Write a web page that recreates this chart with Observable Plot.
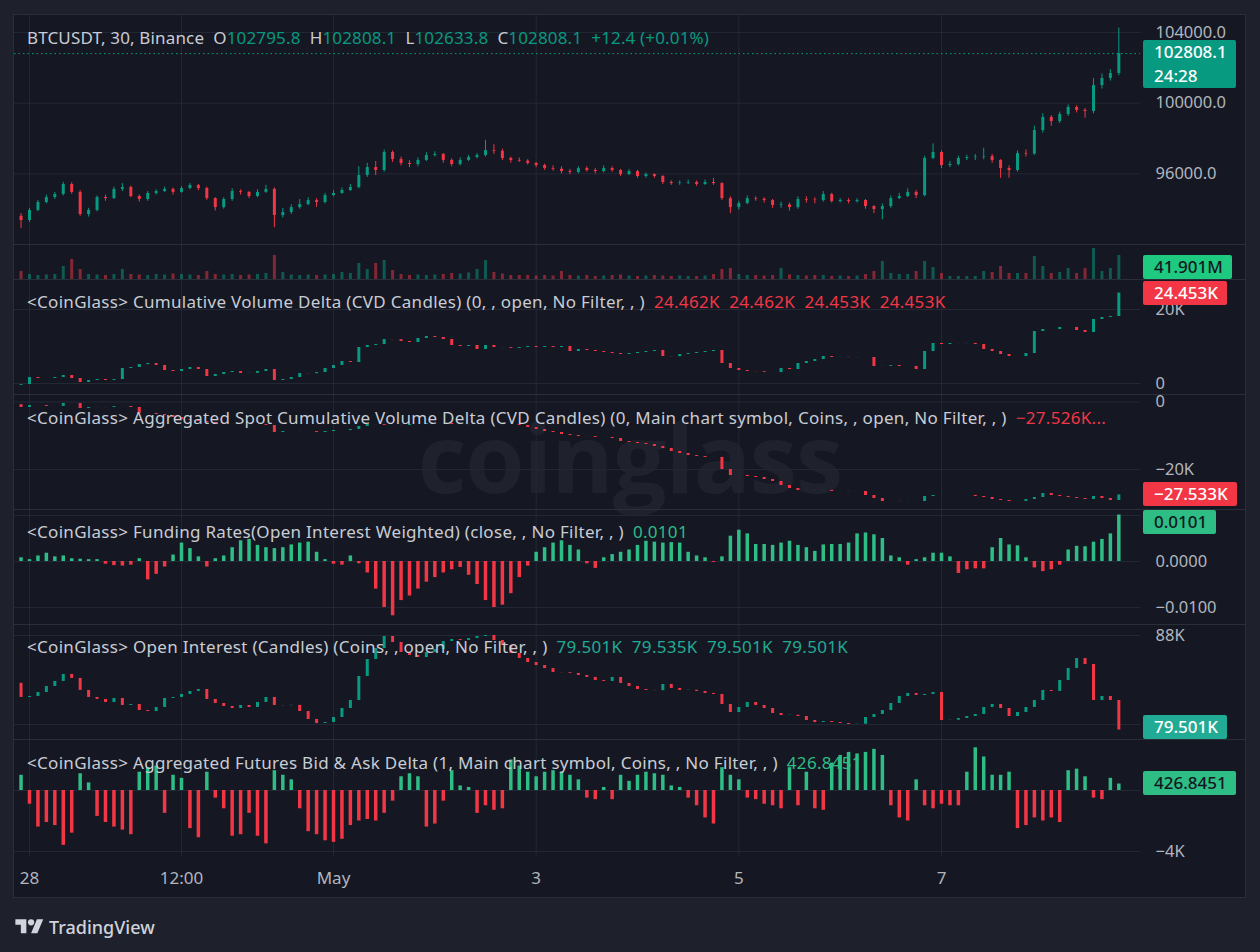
<!DOCTYPE html>
<html><head><meta charset="utf-8">
<script src="https://cdn.jsdelivr.net/npm/d3@7"></script>
<script src="https://cdn.jsdelivr.net/npm/@observablehq/plot@0.6"></script>
<style>
html,body{margin:0;padding:0;background:#1e212b;}
#root{position:relative;width:1260px;height:952px;background:#1e212b;overflow:hidden;font-family:"Noto Sans",sans-serif;}
#frame{position:absolute;left:13px;top:14px;width:1233px;height:884px;background:#151823;border:1px solid #2a2e39;box-sizing:border-box;}
.pane{position:absolute;left:14px;width:1231px;}
.pane svg{display:block;}
.sep{position:absolute;left:14px;width:1231px;height:1px;background:#2a2e39;}
.hdr{position:absolute;left:27px;font-size:17px;line-height:22px;color:#c9ccd4;white-space:pre;letter-spacing:0.3px;}
.hdr.price{letter-spacing:0.15px;}
.hdr .v{margin-left:9px;}
.tag{position:absolute;left:1143px;padding:0 9px 0 11px;font-size:17px;line-height:24px;border-radius:2px;white-space:pre;font-weight:500;}
#wm{position:absolute;left:0;width:1260px;text-align:center;top:396px;font-family:"Open Sans",sans-serif;font-weight:700;font-size:95px;line-height:120px;color:rgba(255,255,255,0.045);letter-spacing:-1px;}
#logo{position:absolute;left:15px;top:916px;}
#logotext{position:absolute;left:49px;top:914px;font-size:18px;line-height:26px;color:#d1d4dc;font-weight:500;}
</style></head><body><div id="root"><div id="frame"></div><div id="wm">coinglass</div></div>
<script>
// ---------------- data (2-hour bars) ----------------
const barStart = "2025-04-27T22:00:00Z";
const barStepHours = 2;
const viewStart = "2025-04-27T20:27:00Z";
const viewEnd = "2025-05-08T23:08:00Z";

const priceOpen0 = 93600;
const priceClose = [93360,93930,94380,94660,94830,95400,94950,93700,93930,94660,
 94600,95120,95230,94720,94550,94890,95000,95120,94950,95170,
 95340,95170,94600,94090,94550,95000,94950,94720,94950,95120,
 93640,93810,94090,94260,94490,94380,94770,94890,95060,95230,
 95910,96360,96190,97210,96810,96590,96530,96760,97040,97100,
 96760,96530,96760,96930,97040,97320,97280,96870,96760,96720,
 96590,96470,96300,96260,96130,96080,96300,96190,96130,96300,
 96190,95960,96130,95850,95960,95850,95510,95450,95480,95510,
 95400,95510,95450,94600,94090,94320,94600,94560,94490,94210,
 94240,94090,94550,94510,94490,94830,94430,94490,94430,94490,
 94150,93980,94150,94600,94720,94950,94770,96870,97210,96470,
 96530,96870,96920,96950,96980,96760,96300,96190,97150,97120,
 98450,99190,98960,99360,99760,99590,99530,101000,101400,101680,
 102808.1];
const priceHigh = [93750,94050,94500,94800,94950,95520,95500,95050,94050,94750,
 94800,95250,95450,95300,94800,95000,95100,95250,95200,95280,
 95450,95400,95250,94650,94650,95150,95100,95000,95100,95350,
 95200,94050,94250,94550,94650,94600,94900,95050,95200,95400,
 96400,96600,96700,97350,97300,96950,96750,96900,97200,97250,
 97150,96850,96900,97050,97150,97900,97650,97400,96950,96900,
 96800,96650,96550,96450,96400,96250,96400,96400,96300,96450,
 96400,96250,96250,96200,96050,96000,95900,95600,95600,95650,
 95600,95650,95750,95500,94700,94450,94750,94700,94650,94550,
 94400,94350,94700,94700,94650,95000,94900,94600,94600,94600,
 94550,94200,94300,94750,94900,95150,95050,97000,97700,97300,
 96700,97000,97050,97100,97450,97100,96800,96450,97300,97350,
 98700,99400,99300,99500,99900,99850,99700,101400,101650,101900,
 104250];
const priceLow = [92900,93250,93850,94300,94550,94750,94850,93600,93550,93850,
 94450,94550,95000,94650,94400,94450,94800,94950,94800,94900,
 95100,95050,94500,93900,94000,94450,94800,94600,94650,94900,
 92950,93500,93700,94000,94200,94100,94300,94700,94850,95000,
 95150,95800,95900,96100,96650,96450,96350,96400,96700,96950,
 96600,96400,96450,96700,96850,96950,97100,96750,96600,96650,
 96500,96350,96200,96150,96000,95950,96000,96100,96000,96050,
 96100,95850,95900,95750,95750,95750,95400,95350,95350,95400,
 95300,95350,95350,94500,93750,93950,94250,94450,94350,94050,
 94050,93900,94000,94350,94300,94400,94350,94350,94300,94350,
 94000,93750,93400,94050,94550,94650,94600,94700,96800,96300,
 96350,96450,96750,96750,96800,96600,95750,95750,96100,96950,
 97050,98300,98700,98850,99250,99450,99150,99400,100800,101250,
 101550];
const volumeM = [80,50,40,45,50,130,200,100,50,45,
 40,50,100,50,45,40,50,45,55,50,
 45,40,80,50,45,50,40,45,50,60,
 240,70,45,40,45,40,45,50,70,60,
 160,100,160,190,90,50,40,45,40,45,
 50,60,55,65,100,190,70,55,40,40,
 40,35,40,35,80,40,35,40,30,35,
 40,45,35,30,35,40,35,30,35,30,
 30,35,50,100,110,50,40,40,35,40,
 110,45,40,35,40,40,30,35,30,35,
 50,80,180,60,50,50,80,180,120,60,
 30,30,30,30,80,70,130,60,60,60,
 230,130,60,70,110,60,110,310,80,110,
 240];
const cvdOpen0 = -500;
const cvd = [-270,1620,1350,1350,1620,2160,1350,270,810,1080,
 810,1080,4050,4320,5140,5410,4870,3510,3240,3780,
 4320,3780,1890,2430,2970,3240,2700,2750,3240,3780,
 810,1080,1620,2700,2650,2970,4050,4870,5950,5680,
 9730,10270,10540,11890,11850,11350,11080,12160,12700,12430,
 11890,10270,10000,10270,9190,10270,9730,9700,9460,9730,
 10000,9730,10000,9730,10000,8650,9190,8920,8650,8380,
 8110,7840,8110,8380,8650,8920,7300,7250,7840,8110,
 8380,8650,8920,5410,4050,3510,3240,3200,2970,2950,
 4050,3780,5410,5950,6490,7300,7030,7060,7000,7040,
 7030,4600,4630,4870,4600,4620,3780,8650,10810,10540,
 10810,10790,10830,10540,9190,8650,7840,7300,7280,8110,
 14060,14600,14580,15140,15160,14330,13790,17300,17840,18110,
 24453];
const spotOpen0 = -800;
const spotCvd = [-1630,-1040,-1060,-1330,-1310,-440,-460,-1930,-1630,-1650,
 -1610,-1330,-1350,-1630,-3410,-3390,-3700,-4000,-4590,-5190,
 -5480,-5780,-6070,-6370,-6670,-6650,-6690,-6660,-6680,-6960,
 -9040,-8740,-8760,-8730,-8750,-9040,-8740,-8440,-8460,-8150,
 -7260,-6670,-6690,-6960,-6940,-6980,-6670,-6690,-6370,-6390,
 -6350,-6670,-6650,-6690,-6660,-6680,-6650,-6690,-6670,-6960,
 -7560,-8150,-8740,-9040,-9630,-9930,-10220,-10250,-10520,-10500,
 -10810,-11700,-12000,-12300,-12590,-13190,-13780,-14670,-15260,-15850,
 -16150,-16440,-16420,-20000,-21780,-21760,-22070,-22370,-22960,-23550,
 -24740,-25630,-26220,-26200,-26240,-26190,-26520,-26500,-26540,-26510,
 -27700,-28590,-29480,-29460,-29500,-29470,-29490,-28000,-27700,-27720,
 -27690,-27710,-27680,-28000,-28300,-28890,-29190,-29480,-29460,-28890,
 -28300,-27110,-27700,-28000,-28300,-28590,-28890,-28000,-28590,-29190,
 -27533];
const fundingRate = [0.0008,0.0004,0.0012,0.0018,0.0010,0.0012,0.0006,0.0005,0.0004,0.0004,
 -0.0006,-0.0009,-0.0010,-0.0008,0.0006,-0.0040,-0.0028,-0.0012,0.0014,0.0040,
 0.0028,0.0010,-0.0012,0.0006,0.0012,0.0030,0.0045,0.0048,0.0035,0.0030,
 0.0028,0.0030,0.0036,0.0040,0.0042,0.0020,0.0004,-0.0006,-0.0008,0.0012,
 -0.0005,-0.0025,-0.0060,-0.0100,-0.0118,-0.0085,-0.0075,-0.0060,-0.0045,-0.0035,
 -0.0025,-0.0018,-0.0013,-0.0030,-0.0050,-0.0085,-0.0100,-0.0095,-0.0070,-0.0035,
 -0.0010,0.0020,0.0030,0.0040,0.0045,0.0035,0.0025,-0.0005,-0.0015,0.0008,
 0.0015,0.0020,0.0025,0.0035,0.0044,0.0042,0.0040,0.0041,0.0040,0.0020,
 0.0012,0.0008,-0.0002,0.0010,0.0055,0.0068,0.0060,0.0037,0.0037,0.0035,
 0.0040,0.0044,0.0035,0.0030,0.0022,0.0036,0.0037,0.0037,0.0040,0.0060,
 0.0062,0.0058,0.0050,0.0012,0.0008,-0.0008,0.0004,0.0008,0.0018,0.0018,
 0.0010,-0.0026,-0.0018,-0.0016,-0.0016,0.0030,0.0050,0.0036,0.0034,0.0008,
 -0.0014,-0.0022,-0.0018,-0.0008,0.0025,0.0033,0.0032,0.0042,0.0048,0.0060,
 0.0101];
const oiOpen0 = 83700;
const openInterest = [82430,82520,82880,83420,83870,84500,84140,83060,82430,82250,
 81980,82340,81710,81800,81260,81170,81530,82340,82430,82700,
 82970,83150,82250,81890,81620,81440,81710,81530,81980,82430,
 81710,81690,81720,81170,80450,80090,80180,80630,81440,82160,
 84320,85840,86830,87910,87370,86470,86200,86020,86470,86740,
 87460,87640,87550,87730,87910,88000,87550,87100,86380,85930,
 85570,85300,85030,84680,84660,84590,84410,84230,83960,83870,
 84230,83690,83420,83150,83060,83040,83600,83240,83060,83080,
 82970,82790,82700,81800,81080,81530,81980,81710,81440,80990,
 80810,80830,80720,80360,80180,80270,80180,80090,80000,80020,
 80630,80900,81260,81890,82520,82790,82610,82700,82880,80360,
 80380,80540,80720,80900,81530,81800,81440,80720,81080,81530,
 82160,83060,82970,83960,85030,85930,85390,82160,82520,82160,
 79501];
const bidAskDelta = [1000,-900,-2400,-2100,-2300,-3600,-2800,1100,500,-1700,
 -2100,-2400,-2600,-2900,1200,1500,1600,-1500,1000,800,
 -2500,-3100,1200,-500,-1200,-3000,-2900,-1500,-3000,-3500,
 1300,1000,700,-1200,-2700,-2900,-3300,-3400,-3200,-2300,
 -2000,-1900,-2000,-1500,-700,900,1100,900,-2400,-2200,
 -700,1300,300,200,-1500,-1000,-1300,-1200,2000,1600,
 1200,900,1200,1300,1200,1000,700,-500,-600,200,
 -600,1000,600,1000,1200,1100,1000,300,200,-500,
 -1000,-1800,-2200,1500,1000,700,-500,-600,-900,-1000,
 -1200,1500,-1000,1200,-1200,-1300,1800,2300,2500,2400,
 2500,2700,2300,-1000,-1800,-2000,700,-1000,-1200,-900,
 -1000,-1000,1200,2800,2200,1000,1000,1200,-2500,-2300,
 -1800,-2000,-1800,-2100,1300,1400,900,-500,-600,800,
 426.8451];

const timeTicks = ["2025-04-28T00:00:00Z","2025-04-29T12:00:00Z","2025-05-01T00:00:00Z","2025-05-03T00:00:00Z","2025-05-05T00:00:00Z","2025-05-07T00:00:00Z"];
const timeTickLabels = ["28","12:00","May","3","5","7"];

// grid levels per pane, and the subset whose labels are not covered by a value tag
const priceTicks = [104000,100000,96000], priceLabels = [104000,100000,96000];
const cvdTicks = [20000,0], cvdLabels = [20000,0];
const spotTicks = [0,-20000], spotLabels = [0,-20000];
const fundingTicks = [0.01,0,-0.01], fundingLabels = [0,-0.01];
const oiTicks = [88000,80000], oiLabels = [88000];
const deltaTicks = [0,-4000], deltaLabels = [-4000];

const lastVolumeM = 41.901;
const countdown = "24:28";
const headerPrice = {symbol:"BTCUSDT, 30, Binance", O:"102795.8", H:"102808.1", L:"102633.8", C:"102808.1", chg:"+12.4 (+0.01%)"};
const headers = [
 {title:"<CoinGlass> Cumulative Volume Delta (CVD Candles) (0, , open, No Filter, , )", values:"24.462K  24.462K  24.453K  24.453K", color:"#f23645"},
 {title:"<CoinGlass> Aggregated Spot Cumulative Volume Delta (CVD Candles) (0, Main chart symbol, Coins, , open, No Filter, , )", values:"\u221227.526K...", color:"#f23645"},
 {title:"<CoinGlass> Funding Rates(Open Interest Weighted) (close, , No Filter, , )", values:"0.0101", color:"#2ebd85"},
 {title:"<CoinGlass> Open Interest (Candles) (Coins, , open, No Filter, , )", values:"79.501K  79.535K  79.501K  79.501K", color:"#22ab94"},
 {title:"<CoinGlass> Aggregated Futures Bid & Ask Delta (1, Main chart symbol, Coins, , No Filter, , )", values:"426.8451", color:"#2ebd85"}
];

// ---------------- styling ----------------
const UP = "#089981", DOWN = "#f23645", MINT = "#2ebd85", TEAL = "#22ab94";
const GRID = "#242835", AXIS_TXT = "#b2b5be";
const FONT = '"Noto Sans", sans-serif';
const AXIS_FS = 16.5;
const minus = s => s.replace("-", "\u2212");

const root = document.getElementById("root");
const t0 = Date.parse(barStart);
const times = priceClose.map((_, i) => new Date(t0 + i * barStepHours * 3600e3));
const xDomain = [new Date(viewStart), new Date(viewEnd)];
const tickDates = timeTicks.map(d => new Date(d));

function candleRows(closes, open0, highs, lows) {
  return closes.map((c, i) => {
    const o = i ? closes[i - 1] : open0;
    return {t: times[i], o, c, h: highs ? highs[i] : Math.max(o, c), l: lows ? lows[i] : Math.min(o, c),
            col: c >= o ? UP : DOWN};
  });
}

function makePane(top, height, domain, ticks, labels, fmt, marks) {
  const chart = Plot.plot({
    width: 1231, height, margin: 0, marginRight: 105,
    style: {background: "transparent", overflow: "visible"},
    x: {type: "utc", domain: xDomain, axis: null},
    y: {domain, axis: null},
    color: {type: "identity"},
    marks: [
      Plot.ruleX(tickDates, {x: d => d, stroke: GRID}),
      Plot.ruleY(ticks, {y: d => d, stroke: GRID}),
      ...marks,
      Plot.text(labels, {y: d => d, text: fmt, frameAnchor: "right", textAnchor: "start", dx: 15,
        fill: AXIS_TXT, fontSize: AXIS_FS, fontFamily: FONT})
    ]
  });
  const div = document.createElement("div");
  div.className = "pane";
  div.style.top = top + "px";
  div.style.height = height + "px";
  div.appendChild(chart);
  root.appendChild(div);
  if (top > 15) {
    const s = document.createElement("div");
    s.className = "sep"; s.style.top = top + "px";
    root.appendChild(s);
  }
  const sc = chart.scale("y");
  const f = sc.apply ? v => sc.apply(v) : d3.scaleLinear(sc.domain, sc.range);
  return {top, height, y: f};
}

function tag(p, value, text, bg, fg, extraHeight) {
  const h = 24 + (extraHeight || 0);
  const yv = p.top + p.y(value);
  let topPx = extraHeight ? yv - 13 : yv - 12;
  topPx = Math.max(p.top + 1, Math.min(p.top + p.height - h, topPx));
  const d = document.createElement("div");
  d.className = "tag";
  d.style.top = topPx + "px";
  d.style.background = bg; d.style.color = fg;
  d.style.height = h + "px";
  d.innerHTML = text;
  root.appendChild(d);
}

function header(top, html, cls) {
  const d = document.createElement("div");
  d.className = "hdr" + (cls ? " " + cls : ""); d.style.top = top + "px";
  d.innerHTML = html;
  root.appendChild(d);
}
const esc = s => s.replace(/&/g, "&amp;").replace(/</g, "&lt;").replace(/>/g, "&gt;");

// ---------------- price pane ----------------
const priceRows = candleRows(priceClose, priceOpen0, priceHigh, priceLow);
const lastPrice = priceClose[priceClose.length - 1];
const pricePane = makePane(15, 229, [92002, 104964], priceTicks, priceLabels, d => d.toFixed(1), [
  Plot.ruleY([lastPrice], {y: d => d, stroke: UP, strokeDasharray: "1.5,3", strokeWidth: 1}),
  Plot.ruleX(priceRows, {x: "t", y1: "l", y2: "h", stroke: "col", strokeWidth: 1}),
  Plot.ruleX(priceRows, {x: "t", y1: "o", y2: "c", stroke: "col", strokeWidth: 3})
]);

// ---------------- volume pane ----------------
const volRows = priceRows.map((r, i) => ({t: r.t, v: volumeM[i], col: r.col}));
const volPane = makePane(244, 35, [0, 350], [], [], d => d, [
  Plot.ruleX(volRows, {x: "t", y1: 0, y2: "v", stroke: "col", strokeOpacity: 0.5, strokeWidth: 3})
]);

// ---------------- CVD ----------------
const cvdRows = candleRows(cvd, cvdOpen0);
const kfmt = d => d === 0 ? "0" : minus((d / 1000) + "K");
const cvdPane = makePane(279, 115, [-2973, 28109], cvdTicks, cvdLabels, kfmt, [
  Plot.ruleX(cvdRows, {x: "t", y1: "o", y2: "c", stroke: "col", strokeWidth: 3})
]);

// ---------------- spot CVD ----------------
const spotRows = candleRows(spotCvd, spotOpen0);
const spotPane = makePane(394, 115, [-31852, 2222], spotTicks, spotLabels, kfmt, [
  Plot.ruleX(spotRows, {x: "t", y1: "o", y2: "c", stroke: "col", strokeWidth: 3})
]);

// ---------------- funding ----------------
const fundRows = fundingRate.map((v, i) => ({t: times[i], v, col: v >= 0 ? MINT : DOWN}));
const fundPane = makePane(509, 115, [-0.0137, 0.0113], fundingTicks, fundingLabels, d => minus(d.toFixed(4)), [
  Plot.ruleX(fundRows, {x: "t", y1: 0, y2: "v", stroke: "col", strokeWidth: 3.5})
]);

// ---------------- open interest ----------------
const oiRows = candleRows(openInterest, oiOpen0);
const oiPane = makePane(624, 115, [78651, 88989], oiTicks, oiLabels, kfmt, [
  Plot.ruleX(oiRows, {x: "t", y1: "o", y2: "c", stroke: "col", strokeWidth: 3})
]);

// ---------------- bid/ask delta ----------------
const deltaRows = bidAskDelta.map((v, i) => ({t: times[i], v, col: v >= 0 ? MINT : DOWN}));
const deltaPane = makePane(739, 118, [-4395, 3346], deltaTicks, deltaLabels, kfmt, [
  Plot.ruleX(deltaRows, {x: "t", y1: 0, y2: "v", stroke: "col", strokeWidth: 3.5})
]);

// ---------------- time axis ----------------
{
  const chart = Plot.plot({
    width: 1231, height: 41, margin: 0, marginRight: 105,
    style: {background: "transparent", overflow: "visible"},
    x: {type: "utc", domain: xDomain, axis: null},
    y: {axis: null},
    marks: [
      Plot.text(tickDates, {x: d => d, text: (d, i) => timeTickLabels[i], fill: AXIS_TXT, fontSize: 17, fontFamily: FONT, dy: 1})
    ]
  });
  const div = document.createElement("div");
  div.className = "pane"; div.style.top = "857px"; div.style.height = "41px";
  div.appendChild(chart); root.appendChild(div);
}

// ---------------- headers ----------------
const G = s => `<span style="color:${UP}">${s}</span>`;
header(27, `${headerPrice.symbol}  O${G(headerPrice.O)}  H${G(headerPrice.H)}  L${G(headerPrice.L)}  C${G(headerPrice.C)}  ${G(headerPrice.chg)}`, "price");
const hdrTops = [291, 407, 521, 636, 752];
headers.forEach((h, i) => header(hdrTops[i], `${esc(h.title)}<span class="v" style="color:${h.color}">${h.values}</span>`));

// ---------------- last-value tags ----------------
tag(pricePane, lastPrice, `${lastPrice.toFixed(1)}<br>${countdown}`, UP, "#fff", 24);
tag(volPane, lastVolumeM, `${lastVolumeM.toFixed(3)}M`, "#1ec980", "#131722");
tag(cvdPane, cvd[cvd.length - 1], (cvd[cvd.length - 1] / 1000).toFixed(3) + "K", DOWN, "#fff");
tag(spotPane, spotCvd[spotCvd.length - 1], minus((spotCvd[spotCvd.length - 1] / 1000).toFixed(3) + "K"), DOWN, "#fff");
tag(fundPane, fundingRate[fundingRate.length - 1], fundingRate[fundingRate.length - 1].toFixed(4), MINT, "#131722");
tag(oiPane, openInterest[openInterest.length - 1], (openInterest[openInterest.length - 1] / 1000).toFixed(3) + "K", TEAL, "#fff");
tag(deltaPane, bidAskDelta[bidAskDelta.length - 1], bidAskDelta[bidAskDelta.length - 1].toFixed(4), MINT, "#131722");

// ---------------- TradingView mark ----------------
root.insertAdjacentHTML("beforeend",
 `<svg id="logo" width="29" height="22" viewBox="0 0 36 28"><path d="M14 22H7V11H0V4h14v18zM28 22h-8l7.5-18h8L28 22z" fill="#d1d4dc"/><circle cx="20" cy="8" r="4" fill="#d1d4dc"/></svg><div id="logotext">TradingView</div>`);
</script></body></html>
